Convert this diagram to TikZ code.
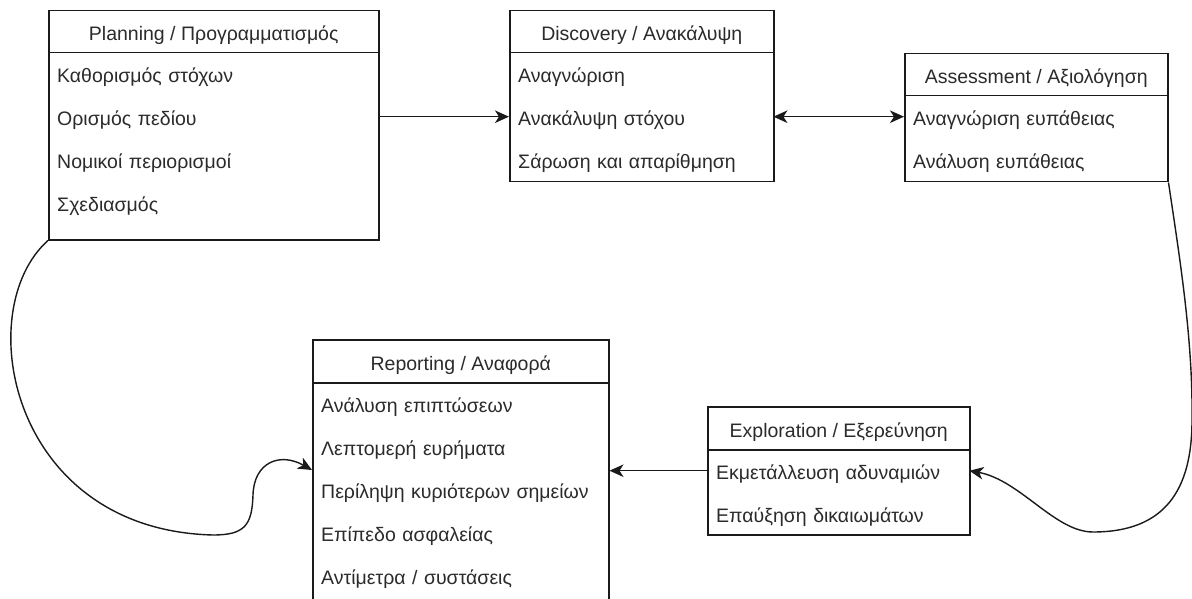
\documentclass[tikz,border=0pt]{standalone}
\usepackage{fontspec}
\setmainfont{Liberation Sans}
\usetikzlibrary{arrows.meta}
\definecolor{edge}{HTML}{1A1A1A}
\definecolor{txt}{HTML}{2B2B2B}
\begin{document}
\begin{tikzpicture}[x=1pt,y=-1pt,
  >={Stealth[length=14pt,width=12.5pt,inset=4pt]},
  lbl/.style={font=\fontsize{19.5pt}{23pt}\selectfont, text=txt, text height=20pt, text depth=2pt},
  frame/.style={draw=edge, fill=white, line width=1.5pt, rectangle, inner sep=0pt, anchor=north west},
  header/.style={frame, lbl, minimum height=42pt},
  item/.style={lbl, rectangle, inner xsep=9pt, inner ysep=0pt, anchor=north west, minimum height=43pt, align=left},
  link/.style={draw=edge, line width=1.4pt, ->},
]
\useasboundingbox (0,0) rectangle (1192,599);
\clip (0,0) rectangle (1192,599);
\fill[white] (0,0) rectangle (1192,599);

% Planning
\node[frame, minimum width=330pt, minimum height=229pt] (plan) at (48,10) {};
\node[header, minimum width=330pt] (planh) at (48,10) {Planning / Προγραμματισμός};
\node[item, text width=312pt] (p1) at (48,52)  {Καθορισμός στόχων};
\node[item, text width=312pt] (p2) at (48,95)  {Ορισμός πεδίου};
\node[item, text width=312pt] (p3) at (48,138) {Νομικοί περιορισμοί};
\node[item, text width=312pt] (p4) at (48,181) {Σχεδιασμός};

% Discovery
\node[frame, minimum width=264pt, minimum height=171pt] (disc) at (509,10) {};
\node[header, minimum width=264pt] (disch) at (509,10) {Discovery / Ανακάλυψη};
\node[item, text width=246pt] (d1) at (509,52)  {Αναγνώριση};
\node[item, text width=246pt] (d2) at (509,95)  {Ανακάλυψη στόχου};
\node[item, text width=246pt] (d3) at (509,138) {Σάρωση και απαρίθμηση};

% Assessment
\node[frame, minimum width=263pt, minimum height=128pt] (assess) at (904,53) {};
\node[header, minimum width=263pt] (assessh) at (904,53) {Assessment / Αξιολόγηση};
\node[item, text width=245pt] (a1) at (904,95)  {Αναγνώριση ευπάθειας};
\node[item, text width=245pt] (a2) at (904,138) {Ανάλυση ευπάθειας};

% Reporting
\node[frame, minimum width=296pt, minimum height=275pt] (report) at (312,339) {};
\node[header, minimum width=296pt, minimum height=43pt] (reporth) at (312,339) {Reporting / Αναφορά};
\node[item, text width=278pt] (r1) at (312,382) {Ανάλυση επιπτώσεων};
\node[item, text width=278pt] (r2) at (312,425) {Λεπτομερή ευρήματα};
\node[item, text width=278pt] (r3) at (312,468) {Περίληψη κυριότερων σημείων};
\node[item, text width=278pt] (r4) at (312,511) {Επίπεδο ασφαλείας};
\node[item, text width=278pt] (r5) at (312,554) {Αντίμετρα / συστάσεις};

% Exploration
\node[frame, minimum width=262pt, minimum height=128pt] (explore) at (707,406) {};
\node[header, minimum width=262pt, minimum height=43pt] (exploreh) at (707,406) {Exploration / Εξερεύνηση};
\node[item, text width=244pt] (x1) at (707,449) {Εκμετάλλευση αδυναμιών};
\node[item, text width=244pt] (x2) at (707,492) {Επαύξηση δικαιωμάτων};

% connectors
\draw[link] (p2.east) -- (d2.west);
\draw[link, <->] (d2.east) -- (a1.west);
\draw[link] (x1.west) -- (x1.west -| report.east);

\coordinate (bendR) at (1192,420);
\coordinate (lowR) at (1093,532);
\draw[link] (assess.south east) .. controls (1180,260) and (1193,340) .. (bendR)
  .. controls (1192,490) and (1165,532) .. (lowR)
  .. controls (1055,532) and (1020,480) .. (x1.east);

\coordinate (lowL) at (213,535);
\coordinate (riseL) at (253,495);
\draw[link] (plan.south west) .. controls (-30,310) and (10,530) .. (lowL)
  .. controls (245,535) and (252,525) .. (riseL)
  .. controls (254,462) and (280,452) .. ([yshift=-2pt]r3.north west);
\end{tikzpicture}
\end{document}
